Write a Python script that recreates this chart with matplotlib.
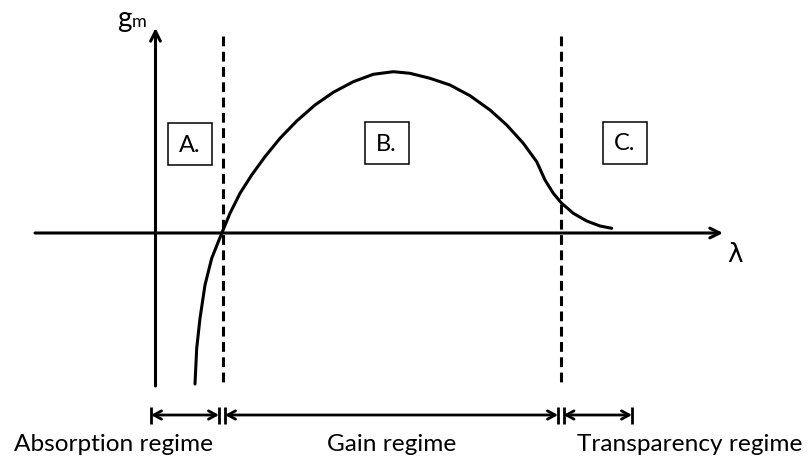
import matplotlib.pyplot as plt
from matplotlib.patches import Rectangle

# diagram is laid out in canvas units (x to the right, y downwards)
curve_x = [195, 196.7, 200, 205, 211.7, 221.7, 230, 240, 251.7, 265, 280,
           296.7, 315, 333.3, 353.3, 373.3, 393.3, 410, 430, 450, 470, 490,
           506.7, 523.3, 536.7, 545, 553.3, 561.7, 573.3, 586.7, 600, 611.7]
curve_y = [384, 348.3, 318.3, 285, 258.3, 233.3, 213.3, 193.3, 175, 156.7,
           138.3, 121, 105, 92.3, 81.7, 74.3, 71.7, 73.3, 78.3, 85, 95.7, 110,
           125, 143.3, 161.7, 180, 193.3, 203.3, 213.3, 221, 226, 228.3]

boundaries = [222.5, 561]
box_labels = ['A.', 'B.', 'C.']
box_centers = [(189.5, 144), (386.5, 143), (625, 142.5)]

regime_names = ['Absorption regime', 'Gain regime', 'Transparency regime']
regime_spans = [(151, 219), (225, 558), (563.5, 632)]
regime_label_x = [114, 392, 690]

FONT = 'Lato'

fig = plt.figure(figsize=(8.08, 4.61), dpi=100)
ax = fig.add_axes([0, 0, 1, 1])
ax.set_xlim(0, 808)
ax.set_ylim(461, 0)
ax.axis('off')

lw = 2.2
# axes with arrow heads
ax.annotate('', xy=(723, 233), xytext=(35, 233),
            arrowprops=dict(arrowstyle='->,head_length=0.7,head_width=0.35',
                            lw=lw, color='black', shrinkA=0, shrinkB=0))
ax.annotate('', xy=(155.5, 28), xytext=(155.5, 386),
            arrowprops=dict(arrowstyle='->,head_length=0.7,head_width=0.35',
                            lw=lw, color='black', shrinkA=0, shrinkB=0))

# region boundaries
for bx in boundaries:
    ax.plot([bx, bx], [36, 387], color='black', lw=lw,
            linestyle=(0, (3.2, 1.8)), solid_capstyle='butt')

ax.plot(curve_x, curve_y, color='black', lw=lw, solid_capstyle='round',
        solid_joinstyle='round')

for label, (cx, cy) in zip(box_labels, box_centers):
    ax.add_patch(Rectangle((cx - 22, cy - 21), 44, 42, fill=False,
                           edgecolor='black', lw=1.1))
    ax.text(cx, cy + 1, label, ha='center', va='center', fontsize=17,
            family=FONT)

for (x0, x1), name, tx in zip(regime_spans, regime_names, regime_label_x):
    ax.annotate('', xy=(x1, 415), xytext=(x0, 415),
                arrowprops=dict(arrowstyle='<->,head_length=0.55,head_width=0.3',
                                lw=2.0, color='black', shrinkA=0, shrinkB=0))
    for bx in (x0, x1):
        ax.plot([bx, bx], [407, 424], color='black', lw=2.0,
                solid_capstyle='butt')
    ax.text(tx, 444, name, ha='center', va='center', fontsize=17.6,
            family=FONT)

ax.text(124, 19, 'g', ha='center', va='center', fontsize=20, family=FONT)
ax.text(139.5, 22, 'm', ha='center', va='center', fontsize=13, family=FONT)
ax.text(735, 255, 'λ', ha='center', va='center', fontsize=19,
        family=['DejaVu Sans'])

fig.savefig('out.png', dpi=100)
